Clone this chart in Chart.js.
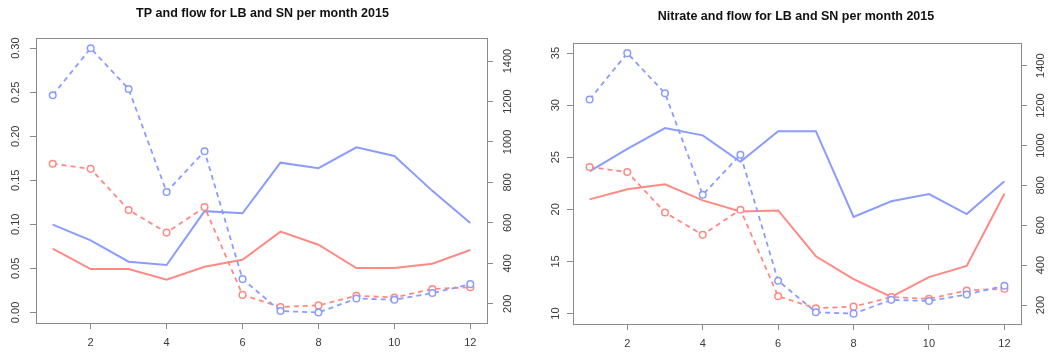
<!DOCTYPE html>
<html>
<head>
<meta charset="utf-8">
<script src="https://cdn.jsdelivr.net/npm/chart.js@4/dist/chart.umd.min.js"></script>
<style>
  html, body { margin: 0; padding: 0; background: #ffffff; }
  body { width: 1055px; height: 353px; position: relative; overflow: hidden; }
  .wrap { position: absolute; top: 0; height: 353px; }
  #w1 { left: 0; width: 525px; }
  #w2 { left: 537px; width: 518px; }
</style>
</head>
<body>
<div class="wrap" id="w1"><canvas id="c1" width="525" height="353"></canvas></div>
<div class="wrap" id="w2"><canvas id="c2" width="518" height="353"></canvas></div>
<script>
// ---- data ----
const months = [1, 2, 3, 4, 5, 6, 7, 8, 9, 10, 11, 12];

// monthly flow (right axis, dashed lines with open circles)
const flowLB = [1231, 1463, 1262, 753, 954, 322, 164, 157, 226, 220, 253, 297];
const flowSN = [892, 867, 664, 552, 678, 244, 184, 192, 240, 231, 273, 282];

// total phosphorus (left axis of left panel, solid lines)
const tpLB = [0.0996, 0.0818, 0.0576, 0.0538, 0.115, 0.1125, 0.170, 0.1637, 0.1875, 0.1777, 0.138, 0.1015];
const tpSN = [0.0723, 0.0492, 0.0492, 0.0371, 0.0519, 0.0598, 0.0917, 0.0769, 0.0504, 0.0504, 0.0553, 0.0708];

// nitrate (left axis of right panel, solid lines)
const no3LB = [23.65, 25.8, 27.8, 27.1, 24.57, 27.5, 27.5, 19.27, 20.77, 21.47, 19.55, 22.7];
const no3SN = [20.96, 21.92, 22.4, 20.86, 19.8, 19.9, 15.5, 13.3, 11.6, 13.5, 14.57, 21.5];

// tick labels
const xTicks = [2, 4, 6, 8, 10, 12];
const tpTicks = [0.00, 0.05, 0.10, 0.15, 0.20, 0.25, 0.30];
const no3Ticks = [10, 15, 20, 25, 30, 35];
const flowTicks = [200, 400, 600, 800, 1000, 1200, 1400];

const titles = ['TP and flow for LB and SN per month 2015', 'Nitrate and flow for LB and SN per month 2015'];

// ---- styling ----
const BLUE = '#8a9cff';
const RED = '#ff8a84';
const AXIS = '#8a8a8a';
const TXT = '#3a3a3a';
const FONT = "'Liberation Sans', Arial, Helvetica, sans-serif";

function pts(arr) { return months.map((m, i) => ({ x: m, y: arr[i] })); }

const boxPlugin = {
  id: 'box',
  afterDraw(chart) {
    const a = chart.chartArea, ctx = chart.ctx;
    ctx.save();
    ctx.strokeStyle = AXIS;
    ctx.lineWidth = 1;
    ctx.strokeRect(Math.round(a.left) + 0.5, Math.round(a.top) + 0.5,
                   Math.round(a.right - a.left), Math.round(a.bottom - a.top));
    ctx.restore();
  }
};

function fixed(list) {
  return function (scale) { scale.ticks = list.map(v => ({ value: v })); };
}

function makeChart(id, cfg) {
  const solid = (label, data, color) => ({
    label, data: pts(data), yAxisID: 'yL', borderColor: color, backgroundColor: color,
    borderWidth: 2, pointRadius: 0, tension: 0
  });
  const dashed = (label, data, color) => ({
    label, data: pts(data), yAxisID: 'yR', borderColor: color, backgroundColor: '#ffffff',
    borderWidth: 1.8, borderDash: [5, 4], pointRadius: 3.3, pointBorderWidth: 1.5,
    pointBackgroundColor: '#ffffff', pointBorderColor: color, tension: 0
  });
  const tickGrid = { display: true, drawOnChartArea: false, drawTicks: true, tickLength: 6, color: AXIS, lineWidth: 1 };
  return new Chart(document.getElementById(id), {
    type: 'line',
    data: {
      datasets: [
        dashed('flow LB', flowLB, BLUE),
        dashed('flow SN', flowSN, RED),
        solid(cfg.name + ' LB', cfg.lb, BLUE),
        solid(cfg.name + ' SN', cfg.sn, RED)
      ]
    },
    options: {
      responsive: false,
      animation: false,
      devicePixelRatio: 1,
      layout: { padding: 0 },
      plugins: {
        legend: { display: false },
        tooltip: { enabled: false },
        title: {
          display: true, text: cfg.title, color: '#111111',
          font: { family: FONT, size: 12.5, weight: 'bold', lineHeight: 1.2 },
          padding: { top: cfg.tTop, bottom: cfg.tBottom }
        }
      },
      scales: {
        x: {
          type: 'linear', position: 'bottom', min: 0.56, max: 12.44,
          afterBuildTicks: fixed(xTicks),
          afterFit(s) { s.height = cfg.xH; },
          border: { display: false },
          grid: tickGrid,
          ticks: { color: TXT, font: { family: FONT, size: 11 }, padding: 7, maxRotation: 0, autoSkip: false }
        },
        yL: {
          type: 'linear', position: 'left', min: cfg.lmin, max: cfg.lmax,
          afterBuildTicks: fixed(cfg.lticks),
          afterFit(s) { s.width = cfg.lW; },
          border: { display: false },
          grid: tickGrid,
          ticks: {
            color: TXT, font: { family: FONT, size: 11 }, padding: cfg.lPad,
            minRotation: 90, maxRotation: 90, crossAlign: 'center', autoSkip: false,
            callback: cfg.fmt
          }
        },
        yR: {
          type: 'linear', position: 'right', min: 105, max: 1516,
          afterBuildTicks: fixed(flowTicks),
          afterFit(s) { s.width = cfg.rW; },
          border: { display: false },
          grid: tickGrid,
          ticks: {
            color: TXT, font: { family: FONT, size: 11 }, padding: cfg.rPad,
            minRotation: 90, maxRotation: 90, crossAlign: 'center', autoSkip: false,
            callback: v => String(v)
          }
        }
      }
    },
    plugins: [boxPlugin]
  });
}

makeChart('c1', {
  name: 'TP', title: titles[0], lb: tpLB, sn: tpSN,
  lmin: -0.012, lmax: 0.312, lticks: tpTicks, fmt: v => Number(v).toFixed(2),
  tTop: 5.8, tBottom: 16.8, xH: 30, lW: 36, rW: 38, lPad: 3, rPad: 3
});

makeChart('c2', {
  name: 'Nitrate', title: titles[1], lb: no3LB, sn: no3SN,
  lmin: 9, lmax: 36, lticks: no3Ticks, fmt: v => String(v),
  tTop: 8.8, tBottom: 18.8, xH: 29, lW: 36, rW: 34, lPad: 5, rPad: 2
});
</script>
</body>
</html>
